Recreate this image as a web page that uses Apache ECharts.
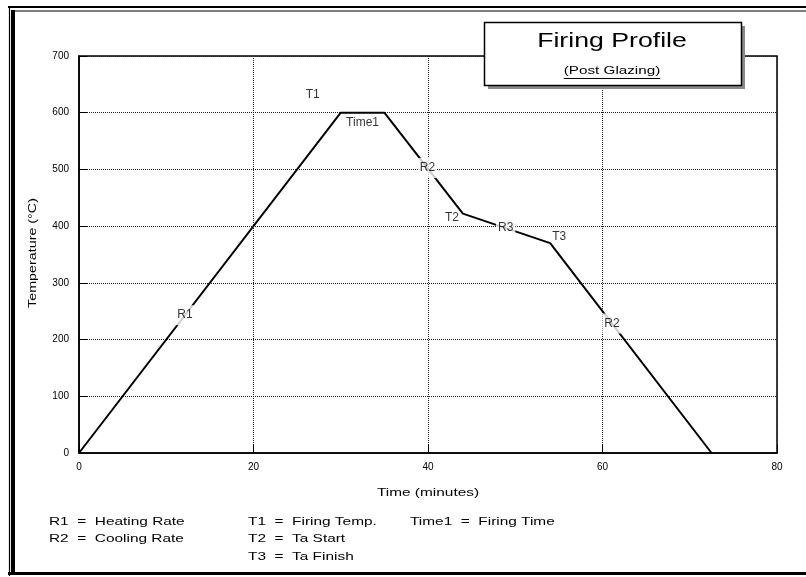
<!DOCTYPE html>
<html>
<head>
<meta charset="utf-8">
<script src="https://cdn.jsdelivr.net/npm/echarts@6/dist/echarts.min.js"></script>
<style>html,body{margin:0;padding:0;background:#fff}#c{width:806px;height:577px}</style>
</head>
<body>
<div id="c"></div>
<script>
// ---- data ----
const timeMin = [0, 30, 35, 44, 54, 72.5];
const tempC = [0, 600, 600, 422, 370, 0];
const xTickValues = [0, 20, 40, 60, 80];
const yTickValues = [0, 100, 200, 300, 400, 500, 600, 700];
const rateLabels = ['R1', 'R2', 'R3', 'R2'];
const rateSegments = [0, 2, 3, 4];
const tempLabels = ['T1', 'Time1', 'T2', 'T3'];
const legendCol1 = ['R1  =  Heating Rate', 'R2  =  Cooling Rate'];
const legendCol2 = ['T1  =  Firing Temp.', 'T2  =  Ta Start', 'T3  =  Ta Finish'];
const legendCol3 = ['Time1  =  Firing Time'];
const titleText = 'Firing Profile';
const subtitleText = '(Post Glazing)';
const xName = 'Time (minutes)';
const yName = 'Temperature (°C)';

// ---- layout ----
const FONT = 'Liberation Sans, Arial, sans-serif';
const G = {left: 79, top: 56, width: 698, height: 397};
const profile = timeMin.map((t, i) => [t, tempC[i]]);

const rateFrac = [0.405, 0.548, 0.49, 0.383];
function along(seg, f) {
  const a = profile[seg], b = profile[seg + 1];
  return [a[0] + (b[0] - a[0]) * f, a[1] + (b[1] - a[1]) * f];
}
const annot = [];
rateLabels.forEach((n, i) => {
  annot.push({value: along(rateSegments[i], rateFrac[i]), label: {formatter: n, offset: [0, 0], backgroundColor: '#fff', padding: [4, 2]}});
});
const tempAnchors = [profile[1], along(1, 0.5), profile[3], profile[4]];
const tempOffsets = [[-28, -18], [0, 10], [-11, 4], [9, -6]];
tempLabels.forEach((n, i) => {
  annot.push({value: tempAnchors[i], label: {formatter: n, offset: tempOffsets[i]}});
});

function measure(s, size) {
  const c = document.createElement('canvas').getContext('2d');
  c.font = size + 'px ' + FONT;
  return c.measureText(s).width;
}

const SX = 1.4;
function txt(x, y, s, size, opts, sx) {
  return {type: 'text', x: x, y: y, scaleX: sx || SX, z: 50,
    style: Object.assign({text: s, fill: '#000', font: size + 'px ' + FONT, textAlign: 'left', textVerticalAlign: 'middle'}, (opts || {}))};
}
const graphics = [];
const ln = (x1, y1, x2, y2, w) => ({type: 'line', z: 60, shape: {x1, y1, x2, y2}, style: {stroke: '#000', lineWidth: w}});
// outer frame
graphics.push(ln(8, 7, 806, 7, 2));
graphics.push(ln(12, 11, 806, 11, 1.2));
graphics.push(ln(9.5, 6, 9.5, 576, 1.2));
graphics.push(ln(13, 10, 13, 572, 4));
graphics.push(ln(8, 573.5, 806, 573.5, 3));
// title box
graphics.push({type: 'rect', z: 40, shape: {x: 488, y: 26, width: 257, height: 63}, style: {fill: '#8a8a8a'}});
graphics.push({type: 'rect', z: 41, shape: {x: 484.5, y: 22.5, width: 257, height: 63}, style: {fill: '#fff', stroke: '#000', lineWidth: 1.5}});
graphics.push(txt(612, 41, titleText, 21, {textAlign: 'center'}, 1.27));
const subSize = 10.5, subSX = 1.45;
graphics.push(txt(612, 71, subtitleText, subSize, {textAlign: 'center'}, subSX));
const subW = measure(subtitleText, subSize) * subSX;
graphics.push({type: 'line', z: 50, shape: {x1: 612 - subW / 2, y1: 78.5, x2: 612 + subW / 2, y2: 78.5}, style: {stroke: '#000', lineWidth: 1}});
// axis names
graphics.push(txt(428, 493, xName, 11, {textAlign: 'center'}));
const yn = txt(33, 253, yName, 11, {textAlign: 'center'}, 1.3);
yn.rotation = Math.PI / 2;
graphics.push(yn);
// legend
const rows = [522, 539, 557];
legendCol1.forEach((s, i) => graphics.push(txt(49, rows[i], s, 11)));
legendCol2.forEach((s, i) => graphics.push(txt(248, rows[i], s, 11)));
legendCol3.forEach((s, i) => graphics.push(txt(410, rows[i], s, 11)));

const chart = echarts.init(document.getElementById('c'), null, {renderer: 'canvas'});
chart.setOption({
  animation: false,
  backgroundColor: '#fff',
  grid: {left: G.left, top: G.top, width: G.width, height: G.height, show: true, borderColor: '#000', borderWidth: 1.5, backgroundColor: '#fff'},
  xAxis: {
    type: 'value', min: xTickValues[0], max: xTickValues[xTickValues.length - 1], interval: 20,
    axisLine: {lineStyle: {color: '#000', width: 1.5}},
    axisTick: {inside: true, length: 8, lineStyle: {color: '#000', width: 1}},
    axisLabel: {color: '#000', fontSize: 10, fontFamily: FONT, margin: 9},
    splitLine: {show: true, lineStyle: {color: '#222', type: [1, 1], width: 1}}
  },
  yAxis: {
    type: 'value', min: yTickValues[0], max: yTickValues[yTickValues.length - 1], interval: 100,
    axisLine: {show: true, lineStyle: {color: '#000', width: 1.5}},
    axisTick: {show: true, inside: true, length: 8, lineStyle: {color: '#000', width: 1}},
    axisLabel: {color: '#000', fontSize: 10, fontFamily: FONT, margin: 10},
    splitLine: {show: true, lineStyle: {color: '#222', type: [1, 1], width: 1}}
  },
  series: [
    {type: 'line', data: profile, symbol: 'none', z: 2, lineStyle: {color: '#000', width: 2}},
    {type: 'scatter', data: annot, symbolSize: 0, z: 5, silent: true,
     label: {show: true, position: 'inside', color: '#000', fontSize: 12, fontFamily: FONT}}
  ],
  graphic: graphics
});
</script>
</body>
</html>
